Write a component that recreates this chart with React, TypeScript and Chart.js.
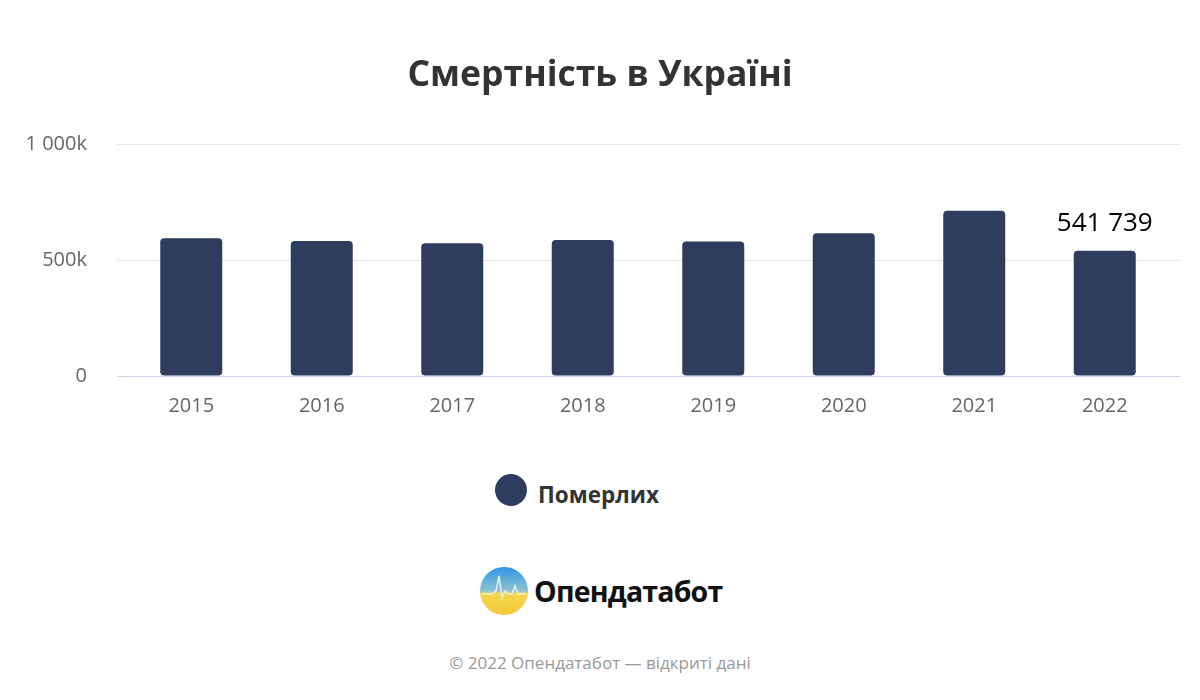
import React, { useEffect, useRef } from "react";
import { Chart, registerables } from "chart.js";

Chart.register(...registerables);

const TITLE = "Смертність в Україні";
const SERIES_NAME = "Померлих";
const YEARS = ["2015", "2016", "2017", "2018", "2019", "2020", "2021", "2022"];
const DEATHS = [594796, 583631, 574123, 587665, 581114, 616835, 714263, 541739];
const LABELED_INDEX = [7];
const Y_TICKS = [0, 500000, 1000000];
const FOOTER = "© 2022 Опендатабот — відкриті дані";
const BRAND = "Опендатабот";

const BAR_COLOR = "#2e3d5d";
const FONT = "'Open Sans', 'Noto Sans', sans-serif";

function fmtSpace(n: number): string {
  return String(Math.round(n)).replace(/\B(?=(\d{3})+(?!\d))/g, " ");
}

const valueLabelPlugin = {
  id: "valueLabel",
  afterDatasetsDraw(chart: any) {
    const ctx = chart.ctx;
    const meta = chart.getDatasetMeta(0);
    ctx.save();
    ctx.font = `500 26px ${FONT}`;
    ctx.fillStyle = "#000";
    ctx.textAlign = "center";
    ctx.textBaseline = "bottom";
    LABELED_INDEX.forEach((i) => {
      const el = meta.data[i];
      ctx.fillText(fmtSpace(DEATHS[i]), el.x, el.y - 14);
    });
    ctx.restore();
  },
};

const gridColor = (c: any) => (c.tick && c.tick.value === 0 ? "#ccd6eb" : "#e6e6e6");

export default function App() {
  const ref = useRef<HTMLCanvasElement | null>(null);
  useEffect(() => {
    if (!ref.current) return;
    const chart = new Chart(ref.current, {
      type: "bar",
      data: {
        labels: YEARS,
        datasets: [
          {
            label: SERIES_NAME,
            data: DEATHS,
            backgroundColor: BAR_COLOR,
            borderRadius: 4,
            borderSkipped: false,
            categoryPercentage: 1,
            barPercentage: 0.475,
          },
        ],
      },
      options: {
        animation: false,
        responsive: false,
        layout: { padding: { left: 0, right: 0, top: 0, bottom: 22 } },
        plugins: {
          legend: { display: false },
          tooltip: { enabled: false },
          title: {
            display: true,
            text: TITLE,
            color: "#333333",
            font: { family: FONT, size: 35.5, weight: "bold" },
            padding: { top: 55, bottom: 47 },
          },
        },
        scales: {
          x: {
            grid: { display: false },
            border: { display: false },
            ticks: {
              color: "#666666",
              font: { family: FONT, size: 20 },
              padding: 10,
              maxRotation: 0,
            },
          },
          y: {
            min: 0,
            max: 1000000,
            afterBuildTicks(scale: any) {
              scale.ticks = Y_TICKS.map((v) => ({ value: v }));
            },
            afterFit(scale: any) {
              scale.width = 126;
            },
            grid: { color: gridColor, drawTicks: true, tickLength: 9 },
            border: { display: false },
            ticks: {
              color: "#666666",
              font: { family: FONT, size: 20 },
              padding: 30,
              callback: (v: any) => (v === 0 ? "0" : fmtSpace(v / 1000) + "k"),
            },
          },
          yRight: {
            position: "right",
            min: 0,
            max: 1000000,
            afterBuildTicks(scale: any) {
              scale.ticks = Y_TICKS.map((v) => ({ value: v }));
            },
            afterFit(scale: any) {
              scale.width = 30;
            },
            grid: { color: gridColor, drawOnChartArea: false, drawTicks: true, tickLength: 10 },
            border: { display: false },
            ticks: { display: false },
          },
        },
      },
      plugins: [valueLabelPlugin],
    });
    return () => chart.destroy();
  }, []);

  return (
    <div style={{ position: "absolute", left: 0, top: 0, width: 1200, height: 700, background: "#fff", fontFamily: FONT }}>
      <canvas ref={ref} width={1200} height={450} style={{ position: "absolute", left: 0, top: 0 }} />
      <div style={{ position: "absolute", left: 495, top: 474, height: 32, display: "flex", alignItems: "center" }}>
        <span style={{ width: 32, height: 32, borderRadius: 16, background: BAR_COLOR, display: "inline-block" }} />
        <span style={{ marginLeft: 11, fontSize: 22.5, fontWeight: 700, color: "#333", position: "relative", top: 4 }}>{SERIES_NAME}</span>
      </div>
      <svg width={250} height={56} style={{ position: "absolute", left: 478, top: 564 }}>
        <defs>
          <linearGradient id="lg" x1="0" y1="0" x2="0" y2="1">
            <stop offset="0" stopColor="#2f95e6" />
            <stop offset="0.5" stopColor="#8cc3d0" />
            <stop offset="0.55" stopColor="#f3d84a" />
            <stop offset="1" stopColor="#f6c93a" />
          </linearGradient>
        </defs>
        <circle cx={26} cy={27} r={24} fill="url(#lg)" />
        <polyline points="4,30 14,30 18,27 21,12 24,34 27,27 30,30 34,30 37,22 40,30 48,30" fill="none" stroke="#e9eef0" strokeWidth={1.5} />
        <text x={56} y={38} fontFamily={FONT} fontSize={28.5} fontWeight={700} fill="#111" letterSpacing={-0.8}>{BRAND}</text>
      </svg>
      <div style={{ position: "absolute", left: 0, width: 1200, top: 651, textAlign: "center", fontSize: 17, color: "#999" }}>{FOOTER}</div>
    </div>
  );
}
